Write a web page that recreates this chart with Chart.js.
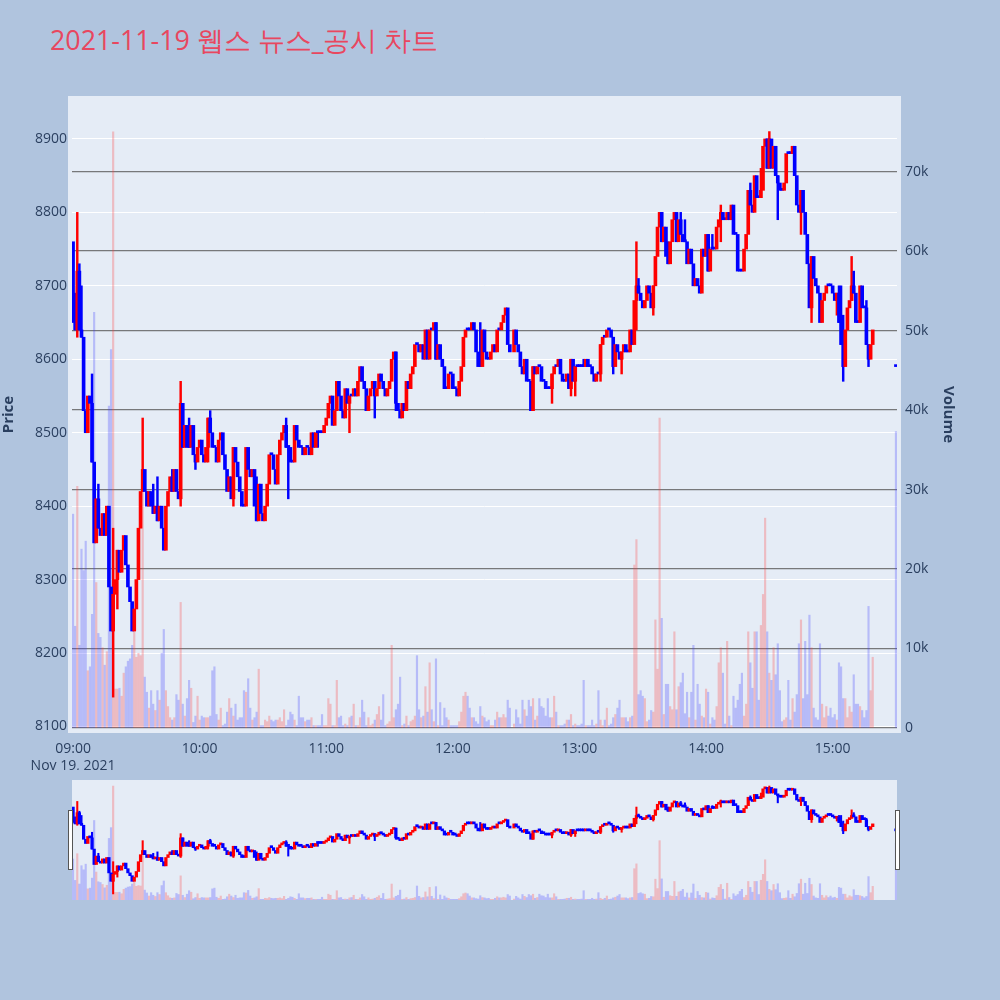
<!DOCTYPE html>
<html>
<head>
<meta charset="utf-8">
<script src="https://cdn.jsdelivr.net/npm/chart.js@4.4.0/dist/chart.umd.min.js"></script>
<style>
    body { margin: 0; width: 1000px; height: 1000px; background: #b0c4de; position: relative; overflow: hidden; font-family: "Open Sans", sans-serif; }
    #title { position: absolute; left: 50px; top: 26px; font-size: 26.8px; line-height: 28px; color: #e8475f; white-space: nowrap; }
    #mainChart { position: absolute; left: 0; top: 0; }
    #sliderChart { position: absolute; left: 72px; top: 780px; background: #e5ecf6; }
    .handle { position: absolute; top: 810px; width: 3px; height: 58px; background: #fff; border: 1px solid #555; }
</style>
</head>
<body>
<div id="title">2021-11-19 웹스 뉴스_공시 차트</div>
<canvas id="mainChart" width="1000" height="770"></canvas>
<canvas id="sliderChart" width="825" height="120"></canvas>
<div class="handle" style="left:68px"></div>
<div class="handle" style="left:895px"></div>
<script>
// minutes after 09:00, one close per minute (null = no trade)
const closes = [
    8650, 8640, 8720, 8640, 8630, 8530, 8500, 8550, 8540, 8460,
    8350, 8410, 8370, 8360, 8390, 8360, 8400, 8290, 8230, 8280,
    8300, 8340, 8310, 8340, 8360, 8320, 8290, 8270, 8230, 8260,
    8300, 8370, 8420, 8450, 8420, 8400, 8420, 8400, 8390, 8400,
    8380, 8400, 8370, 8340, 8400, 8420, 8440, 8420, 8450, 8420,
    8410, 8540, 8480, 8510, 8480, 8480, 8510, 8470, 8460, 8480,
    8490, 8470, 8460, 8480, 8520, 8500, 8480, 8480, 8460, 8490,
    8500, 8470, 8450, 8420, 8440, 8410, 8480, 8460, 8440, 8420,
    8400, 8400, 8480, 8450, 8440, 8450, 8400, 8380, 8430, 8390,
    8380, 8400, 8430, 8470, 8470, 8450, 8430, 8470, 8490, 8500,
    8510, 8480, 8480, 8460, 8460, 8510, 8490, 8480, 8480, 8470,
    8480, 8480, 8470, 8500, 8480, 8500, 8500, 8500, 8500, 8510,
    8520, 8540, 8550, 8510, 8530, 8570, 8550, 8530, 8520, 8560,
    8540, 8550, 8550, 8560, 8550, 8570, 8590, 8570, 8560, 8530,
    8550, 8560, 8570, 8550, 8560, 8580, 8570, 8560, 8550, 8560,
    8570, 8600, 8610, 8540, 8530, 8520, 8540, 8530, 8570, 8560,
    8580, 8590, 8620, 8620, 8610, 8620, 8600, 8640, 8600, 8640,
    8640, 8650, 8600, 8620, 8600, 8590, 8560, 8560, 8580, 8580,
    8560, 8560, 8550, 8570, 8590, 8630, 8640, 8640, 8640, 8650,
    8640, 8610, 8590, 8590, 8640, 8610, 8600, 8600, 8610, 8620,
    8610, 8640, 8640, 8650, 8660, 8670, 8620, 8610, null, 8640,
    8620, 8610, 8590, 8580, 8600, 8570, 8570, 8530, 8590, 8580,
    8590, 8590, 8570, 8570, 8560, 8560, 8560, 8580, 8590, 8590,
    8600, 8580, 8570, 8570, 8580, 8560, 8600, 8570, 8590, 8590,
    8590, 8590, 8590, 8600, 8590, 8590, 8580, 8570, 8580, 8580,
    8620, 8630, 8630, 8640, 8640, 8630, 8590, 8620, 8610, 8600,
    8610, 8620, 8610, 8610, 8640, 8620, 8680, 8700, 8690, 8680,
    8670, 8680, 8700, 8690, 8670, 8700, 8740, 8780, 8800, 8760,
    8780, 8740, 8730, 8760, 8790, 8800, 8760, 8790, 8770, 8760,
    8760, 8730, 8750, 8730, 8700, 8710, 8700, 8690, 8750, 8740,
    8770, 8720, 8750, 8750, 8750, 8780, 8790, 8800, 8790, 8790,
    8800, 8790, 8810, 8770, 8770, 8720, 8720, 8720, 8750, 8770,
    8830, 8810, 8800, 8850, 8820, 8820, 8830, 8890, 8900, 8860,
    8900, 8860, 8890, 8850, 8840, 8830, 8830, 8840, 8880, 8880,
    8880, 8890, 8850, 8810, 8800, 8830, 8800, 8770, 8730, 8670,
    8740, 8710, 8700, 8690, 8650, 8680, 8690, 8700, 8700, 8700,
    8690, 8680, 8690, 8650, 8620, 8590, 8640, 8670, 8680, 8700,
    8690, 8650, 8650, 8700, 8670, 8670, 8620, 8600, 8620, 8640,
    null, null, null, null, null, null, null, null, null, null,
    8590
];

const volumes = [
    26900, 12800, 30400, 10400, 22500, 19800, 23500, 7200, 7700, 14300,
    52300, 18300, 11900, 11400, 10100, 7900, 9600, 40500, 47600, 75000,
    4900, 4900, 5000, 4000, 6900, 7700, 8400, 8700, 10400, 14800,
    8900, 9400, 9100, 30400, 6400, 4500, 2500, 4700, 3000, 2200,
    4700, 3500, 9400, 12400, 4700, 2700, 1300, 1000, 1300, 4200,
    3500, 15800, 3000, 1500, 3700, 6000, 5000, 700, 1500, 4000,
    1000, 1500, 1300, 1300, 1300, 1500, 7200, 7700, 1700, 1000,
    2500, 300, 500, 2000, 3700, 2500, 1500, 3000, 1000, 1300,
    1300, 4700, 4500, 6200, 2500, 1000, 1300, 2000, 7400, 300,
    300, 1000, 800, 1500, 1000, 800, 1000, 1000, 1300, 800,
    2300, 300, 1000, 2000, 1700, 1000, 300, 4000, 1300, 1300,
    800, 1000, 1000, 1300, 300, 300, 300, 300, 1700, 300,
    300, 3700, 3000, 300, 300, 6000, 1300, 1500, 300, 500,
    300, 1300, 1500, 3000, 300, 300, 1300, 3500, 2000, 300,
    1300, 300, 500, 1000, 1700, 2700, 1000, 4200, 300, 500,
    800, 10400, 1300, 2300, 3000, 6400, 300, 500, 1500, 300,
    800, 1000, 1500, 9100, 2300, 1300, 1500, 5200, 2000, 8200,
    2300, 800, 8700, 300, 3200, 300, 2500, 1300, 1000, 300,
    300, 300, 300, 800, 2000, 4000, 4500, 4000, 2500, 1300,
    1300, 800, 500, 2700, 1500, 1300, 800, 1000, 300, 300,
    1000, 2000, 1300, 1300, 1700, 1300, 3500, 2500, null, 500,
    2300, 1300, 500, 3500, 2300, 1500, 3500, 2700, 3700, 1000,
    1500, 3700, 2700, 2500, 1500, 3700, 1300, 1300, 4000, 2000,
    300, 300, 300, 500, 1000, 1000, 1700, 300, 500, 300,
    300, 500, 6000, 300, 300, 300, 1000, 300, 500, 4700,
    1000, 300, 1000, 2500, 300, 500, 1300, 1700, 2500, 3500,
    1300, 1300, 1300, 800, 1300, 1500, 20500, 23700, 4200, 4700,
    4000, 3700, 800, 1000, 2200, 2000, 13600, 7400, 39000, 13800,
    1700, 5500, 5500, 2700, 2300, 12100, 2300, 5200, 5700, 6900,
    1800, 4500, 1300, 4500, 10400, 1000, 5500, 3000, 1500, 1300,
    4900, 4500, 500, 1300, 1000, 2700, 8200, 10100, 6900, 500,
    10900, 1500, 300, 4000, 2500, 3500, 5500, 6900, 1500, 3000,
    12100, 8200, 5000, 12100, 12100, 3500, 12900, 16800, 26400, 12100,
    6900, 6000, 10100, 6700, 10600, 4700, 800, 1000, 1300, 6000,
    1000, 3700, 2000, 4200, 10600, 13600, 3700, 10900, 4200, 14200,
    10100, 2500, 1300, 1000, 10600, 3000, 1300, 2700, 1500, 2500,
    1300, 1700, 1000, 8200, 7700, 3700, 3700, 1300, 2700, 2000,
    6700, 3000, 3000, 2700, 2200, 1300, 2200, 15300, 4700, 8900,
    null, null, null, null, null, null, null, null, null, null,
    37300
];

// opens that are not the previous close: [minute, price]
const openOverride = [[0, 8760], [390, 8590]];

// wick extremes beyond the body: [minute, price]
const wickHighs = [
    [1, 8690], [2, 8800], [3, 8730], [4, 8700], [9, 8580], [12, 8430], [19, 8370],
    [33, 8520], [38, 8430], [40, 8440], [47, 8450], [51, 8570], [52, 8530], [55, 8520],
    [65, 8530], [87, 8440], [101, 8520], [172, 8650], [193, 8650], [242, 8600],
    [267, 8760], [268, 8710], [279, 8790], [282, 8760], [288, 8800], [290, 8790],
    [301, 8770], [303, 8770], [307, 8810], [321, 8840], [326, 8860], [329, 8890],
    [330, 8910], [363, 8700], [364, 8700], [365, 8660], [369, 8740], [370, 8720], [376, 8680]
];
const wickLows = [
    [2, 8630], [19, 8140], [21, 8260], [51, 8400], [58, 8450], [64, 8460], [76, 8400],
    [102, 8410], [116, 8480], [131, 8500], [143, 8520], [153, 8530], [218, 8530],
    [227, 8540], [236, 8550], [238, 8550], [250, 8570], [256, 8580], [260, 8580],
    [267, 8640], [275, 8660], [307, 8760], [334, 8790], [345, 8770], [350, 8650],
    [362, 8660], [365, 8570], [377, 8590]
];

const timeTicks = [0, 60, 120, 180, 240, 300, 360];
const timeLabels = ['09:00', '10:00', '11:00', '12:00', '13:00', '14:00', '15:00'];
const dateLabel = 'Nov 19, 2021';
const priceTicks = [8100, 8200, 8300, 8400, 8500, 8600, 8700, 8800, 8900];
const volumeTicks = [0, 10000, 20000, 30000, 40000, 50000, 60000, 70000];

const UP = '#ff0000';
const DOWN = '#0000ff';
const UP_VOL = 'rgba(255, 60, 60, 0.28)';
const DOWN_VOL = 'rgba(60, 60, 255, 0.28)';
const TEXT = '#2a3f5f';

// build candles from the arrays
const opens = [];
let prev = null;
for (let i = 0; i < closes.length; i++) {
    opens.push(prev);
    if (closes[i] !== null) prev = closes[i];
}
openOverride.forEach(([m, p]) => { opens[m] = p; });

const highMap = {};
wickHighs.forEach(([m, p]) => { highMap[m] = p; });
const lowMap = {};
wickLows.forEach(([m, p]) => { lowMap[m] = p; });

const bodyData = [], bodyColors = [], wickData = [], wickColors = [], volData = [], volColors = [];
for (let m = 0; m < closes.length; m++) {
    const c = closes[m];
    if (c === null) continue;
    const o = opens[m];
    const up = c > o;
    const lo = Math.min(o, c), hi = Math.max(o, c);
    bodyData.push({ x: m, y: [lo, hi] });
    bodyColors.push(up ? UP : DOWN);
    if (highMap[m] !== undefined || lowMap[m] !== undefined) {
        const wl = lowMap[m] !== undefined ? Math.min(lo, lowMap[m]) : lo;
        const wh = highMap[m] !== undefined ? Math.max(hi, highMap[m]) : hi;
        wickData.push({ x: m, y: [wl, wh] });
        wickColors.push(up ? UP : DOWN);
    }
    if (volumes[m] !== null) {
        volData.push({ x: m, y: volumes[m] });
        volColors.push(up ? UP_VOL : DOWN_VOL);
    }
}

function makeDatasets(bodyW, wickW) {
    return [
        { data: bodyData, backgroundColor: bodyColors, yAxisID: 'y', barThickness: bodyW, minBarLength: 2, grouped: false, order: 1 },
        { data: wickData, backgroundColor: wickColors, yAxisID: 'y', barThickness: wickW, grouped: false, order: 2 },
        { data: volData, backgroundColor: volColors, yAxisID: 'y1', barThickness: 1.5, grouped: false, order: 3 }
    ];
}

const plotBg = {
    id: 'plotBg',
    beforeDraw(chart, args, opts) {
        const a = chart.chartArea;
        const ctx = chart.ctx;
        ctx.save();
        ctx.fillStyle = '#e5ecf6';
        ctx.fillRect(a.left - opts.pad, a.top - opts.pad, a.right - a.left + opts.pad * 2, a.bottom - a.top + opts.pad * 2);
        ctx.restore();
    }
};

const PRICE_MIN = 8096.6, PRICE_MAX = 8953;
const VOL_MIN = -125, VOL_MAX = 79000;

Chart.defaults.font.family = '"Open Sans", sans-serif';

new Chart(document.getElementById('mainChart'), {
    type: 'bar',
    data: { datasets: makeDatasets(3, 1.8) },
    plugins: [plotBg],
    options: {
        responsive: false,
        animation: false,
        layout: { padding: { top: 100, left: 0, right: 43, bottom: 0 } },
        plugins: { legend: { display: false }, tooltip: { enabled: false }, plotBg: { pad: 4 } },
        scales: {
            x: {
                type: 'linear', min: -0.5, max: 390.5, offset: false,
                grid: { display: false, offset: false }, border: { display: false },
                afterBuildTicks: s => { s.ticks = timeTicks.map(v => ({ value: v })); },
                afterFit: s => { s.height = 41; },
                ticks: {
                    autoSkip: false, maxRotation: 0, padding: 4, color: TEXT, font: { size: 14 },
                    callback: (v, i) => i === 0 ? [timeLabels[0], dateLabel] : timeLabels[i]
                }
            },
            y: {
                position: 'left', min: PRICE_MIN, max: PRICE_MAX,
                grid: { color: '#ffffff', lineWidth: 1, drawTicks: false }, border: { display: false },
                afterBuildTicks: s => { s.ticks = priceTicks.map(v => ({ value: v })); },
                afterFit: s => { s.width = 72; },
                ticks: { padding: 5, color: TEXT, font: { size: 14 }, callback: v => String(v) },
                title: { display: true, text: 'Price', color: TEXT, font: { size: 15, weight: 'bold' }, padding: 0 }
            },
            y1: {
                position: 'right', min: VOL_MIN, max: VOL_MAX,
                grid: { color: 'rgba(100, 100, 100, 0.85)', lineWidth: 1.2, drawTicks: false }, border: { display: false },
                afterBuildTicks: s => { s.ticks = volumeTicks.map(v => ({ value: v })); },
                afterFit: s => { s.width = 60; },
                ticks: { padding: 8, color: TEXT, font: { size: 14 }, callback: v => v === 0 ? '0' : (v / 1000) + 'k' },
                title: { display: true, text: 'Volume', color: TEXT, font: { size: 15, weight: 'bold' }, padding: 0 }
            }
        }
    }
});

// range slider preview
new Chart(document.getElementById('sliderChart'), {
    type: 'bar',
    data: { datasets: makeDatasets(2.6, 1.4) },
    options: {
        responsive: false,
        animation: false,
        layout: { padding: 0 },
        plugins: { legend: { display: false }, tooltip: { enabled: false } },
        scales: {
            x: { type: 'linear', min: -0.5, max: 390.5, offset: false, display: false },
            y: { min: PRICE_MIN, max: PRICE_MAX, display: false },
            y1: { min: VOL_MIN, max: VOL_MAX, display: false }
        }
    }
});
</script>
</body>
</html>
